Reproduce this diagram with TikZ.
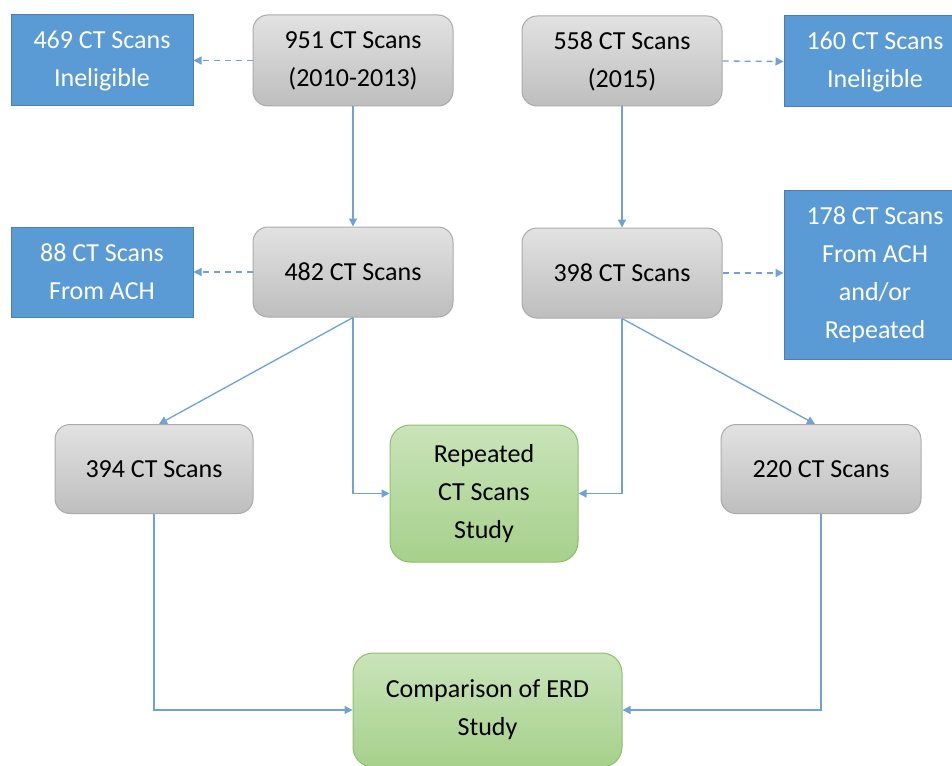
\documentclass[tikz,border=0pt]{standalone}
\usepackage{fontspec}
\setmainfont{Carlito}
\usetikzlibrary{arrows.meta}
\definecolor{bluefill}{HTML}{5B9BD5}
\definecolor{blueedge}{HTML}{4A7EB5}
\definecolor{graytop}{HTML}{E2E2E2}
\definecolor{graybot}{HTML}{BEBEBE}
\definecolor{grayedge}{HTML}{ABABAB}
\definecolor{greentop}{HTML}{C9E4B9}
\definecolor{greenbot}{HTML}{A6D08B}
\definecolor{greenedge}{HTML}{8EBF6E}
\definecolor{linec}{HTML}{6FA2D9}
\begin{document}
\begin{tikzpicture}[x=1pt,y=-1pt,
  txt/.style={align=center, font=\fontsize{26}{38}\selectfont, inner sep=0pt},
  bluebox/.style={txt, draw=blueedge, fill=bluefill, text=white, line width=1pt, minimum width=182pt},
  graybox/.style={txt, draw=grayedge, top color=graytop, bottom color=graybot, line width=1pt, rounded corners=15pt, text=black},
  greenbox/.style={txt, draw=greenedge, top color=greentop, bottom color=greenbot, line width=1pt, rounded corners=20pt, text=black},
  conn/.style={draw=linec, line width=1.3pt, -{Triangle[length=8pt,width=8pt]}},
  dconn/.style={conn, dash pattern=on 6pt off 5pt}]
\useasboundingbox (0,0) rectangle (952,765);
\clip (0,0) rectangle (952,765);
\fill[white] (0,0) rectangle (952,765);

\node[bluebox, minimum height=91pt] (b469) at (102,60.5) {469 CT Scans\\Ineligible};
\node[graybox, minimum width=200pt, minimum height=91pt] (g951) at (353,60.5) {951 CT Scans\\(2010-2013)};
\node[graybox, minimum width=200pt, minimum height=90pt] (g558) at (622,61) {558 CT Scans\\(2015)};
\node[bluebox, minimum height=91pt] (b160) at (875,61.5) {160 CT Scans\\Ineligible};

\node[bluebox, minimum height=90pt] (b88) at (102,272) {88 CT Scans\\From ACH};
\node[graybox, minimum width=200pt, minimum height=90pt] (g482) at (353,272) {482 CT Scans};
\node[graybox, minimum width=200pt, minimum height=90pt] (g398) at (622,273) {398 CT Scans};
\node[bluebox, minimum height=169pt] (b178) at (875,274.5) {178 CT Scans\\From ACH\\and/or\\Repeated};

\node[graybox, minimum width=198pt, minimum height=89pt] (g394) at (154,469) {394 CT Scans};
\node[greenbox, minimum width=188pt, minimum height=137pt] (grep) at (484,493.5) {Repeated\\CT Scans\\Study};
\node[graybox, minimum width=200pt, minimum height=89pt] (g220) at (821,469) {220 CT Scans};
\node[greenbox, minimum width=269pt, minimum height=114pt] (gcmp) at (487.5,710) {Comparison of ERD\\Study};

\draw[dconn] (g951.west) -- (b469.east);
\draw[dconn] (g558.east) -- (b160.west);
\draw[dconn] (g482.west) -- (b88.east);
\draw[dconn] (g398.east) -- (b178.west |- g398.east);

\draw[conn] (g951.south) -- (g482.north);
\draw[conn] (g558.south) -- (g398.north);

\draw[conn] (g482.south) -- ([xshift=5pt]g394.north);
\draw[conn] (g482.south) |- (grep.west);
\draw[conn] (g398.south) |- (grep.east);
\draw[conn] (g398.south) -- ([xshift=-6pt]g220.north);

\draw[conn] (g394.south) |- (gcmp.west);
\draw[conn] (g220.south) |- (gcmp.east);
\end{tikzpicture}
\end{document}
